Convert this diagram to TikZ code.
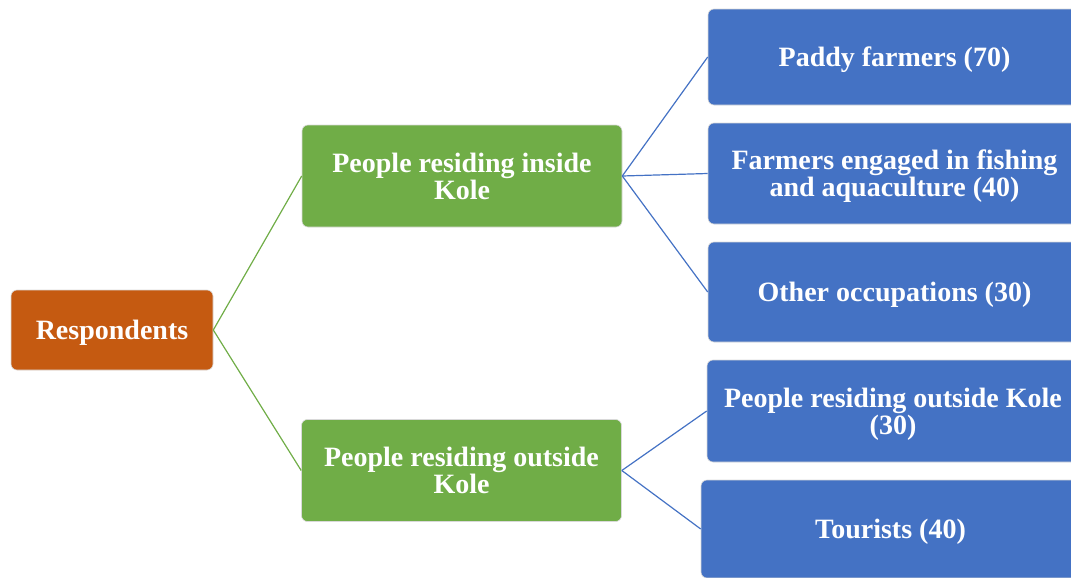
\documentclass[tikz,border=0pt]{standalone}
\usepackage{fontspec}
\setmainfont{Liberation Serif}
\usetikzlibrary{positioning}
\definecolor{rootorange}{HTML}{C55A11}
\definecolor{groupgreen}{HTML}{70AD47}
\definecolor{leafblue}{HTML}{4472C4}
\tikzset{every box/.style={rounded corners=3pt, draw=white!85!black, line width=0.3pt,
                           text=white, align=center, inner sep=0pt, text depth=0pt,
                           font=\bfseries\fontsize{14}{13.5}\selectfont},
        rootbox/.style={every box, fill=rootorange, minimum width=101pt, minimum height=40pt},
        groupbox/.style={every box, fill=groupgreen, minimum width=160pt, minimum height=51pt},
        leafbox/.style={every box, fill=leafblue, minimum width=186.5pt, minimum height=50pt},
        greenlink/.style={draw=groupgreen, line width=0.6pt},
        bluelink/.style={draw=leafblue, line width=0.6pt},
        }

\begin{document}
\begin{tikzpicture}[x=0.5pt, y=-0.5pt]
    \clip (0,0) rectangle (1071,578);

    \node[rootbox] (Respondents) at (112,330) {Respondents};

    \node[groupbox] (Inside) at (462,176) {People residing inside\\Kole};
    \node[groupbox] (Outside) at (461.5,470.5) {People residing outside\\Kole};

    \node[leafbox, minimum height=48pt] (Paddy) at (894.5,57) {Paddy farmers (70)};
    \node[leafbox, minimum height=50.5pt] (Fishing) at (894.5,173.5) {Farmers engaged in fishing\\and aquaculture (40)};
    \node[leafbox] (Other) at (894.5,292) {Other occupations (30)};
    \node[leafbox, minimum width=186pt, minimum height=51pt] (Visitors) at (893,411) {People residing outside Kole\\(30)};
    \node[leafbox, minimum width=189.5pt, minimum height=49pt] (Tourists) at (890.5,529) {Tourists (40)};

    \draw [greenlink] (Respondents.east) -- (Inside.west);
    \draw [greenlink] (Respondents.east) -- (Outside.west);

    \draw [bluelink] (Inside.east) -- (Paddy.west);
    \draw [bluelink] (Inside.east) -- (Fishing.west);
    \draw [bluelink] (Inside.east) -- (Other.west);
    \draw [bluelink] (Outside.east) -- (Visitors.west);
    \draw [bluelink] (Outside.east) -- (Tourists.west);

\end{tikzpicture}
\end{document}
